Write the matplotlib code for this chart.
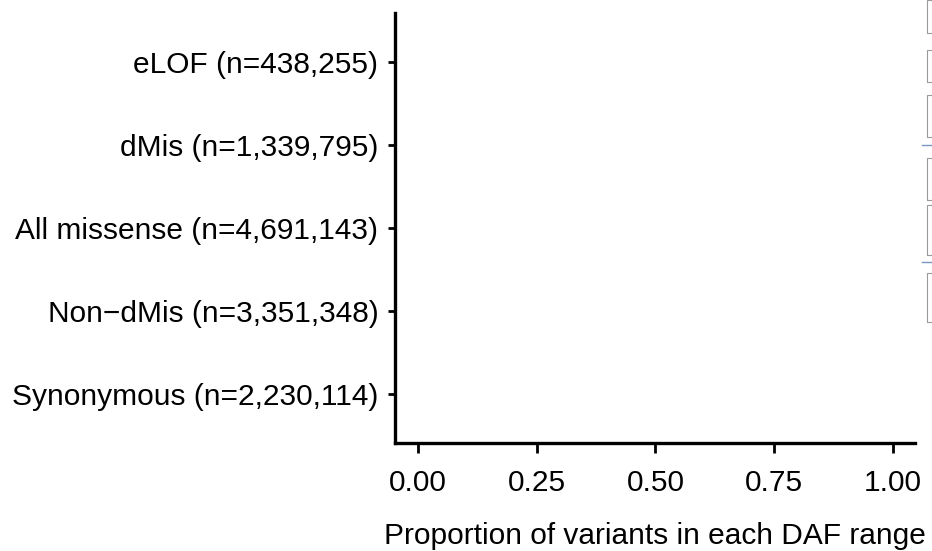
import matplotlib
matplotlib.use("Agg")
import matplotlib.pyplot as plt
from matplotlib.patches import Rectangle

plt.rcParams["font.family"] = ["Liberation Sans", "DejaVu Sans"]

# categories, top to bottom
categories = [
    "eLOF (n=438,255)",
    "dMis (n=1,339,795)",
    "All missense (n=4,691,143)",
    "Non\u2212dMis (n=3,351,348)",
    "Synonymous (n=2,230,114)",
]
x_ticks = [0.00, 0.25, 0.50, 0.75, 1.00]
x_tick_labels = ["0.00", "0.25", "0.50", "0.75", "1.00"]

fig = plt.figure(figsize=(9.32, 5.51), dpi=100)
ax = fig.add_axes([395 / 932, 1 - 443 / 551, 520 / 932, 430 / 551])

ypos = list(range(len(categories), 0, -1))
ax.set_yticks(ypos)
ax.set_yticklabels(categories, fontsize=21.5)
ax.set_ylim(0.41, len(categories) + 0.59)

ax.set_xticks(x_ticks)
ax.set_xticklabels(x_tick_labels, fontsize=21.5)
ax.set_xlim(-0.048, 1.046)
ax.set_xlabel("Proportion of variants in each DAF range", fontsize=21.5, labelpad=18)

for side in ["top", "right"]:
    ax.spines[side].set_visible(False)
for side in ["left", "bottom"]:
    ax.spines[side].set_linewidth(2.4)
ax.tick_params(axis="y", length=5, width=2, pad=7, colors="black")
ax.tick_params(axis="x", length=7, width=2, pad=12, colors="black")

# cropped legend boxes at right edge
for y0, y1 in [(0, 33), (50, 82), (95, 137), (158, 200), (205, 255), (273, 322)]:
    fig.patches.append(Rectangle((927 / 932, 1 - y1 / 551), 10 / 932, (y1 - y0) / 551,
                                 transform=fig.transFigure, fill=False,
                                 edgecolor="#9a9a9a", linewidth=0.8))
for yl in [145, 262]:
    fig.add_artist(plt.Line2D([922 / 932, 1], [1 - yl / 551] * 2,
                              transform=fig.transFigure, color="#7a95c0", linewidth=1))

fig.savefig("out.png", dpi=100, facecolor="white")
